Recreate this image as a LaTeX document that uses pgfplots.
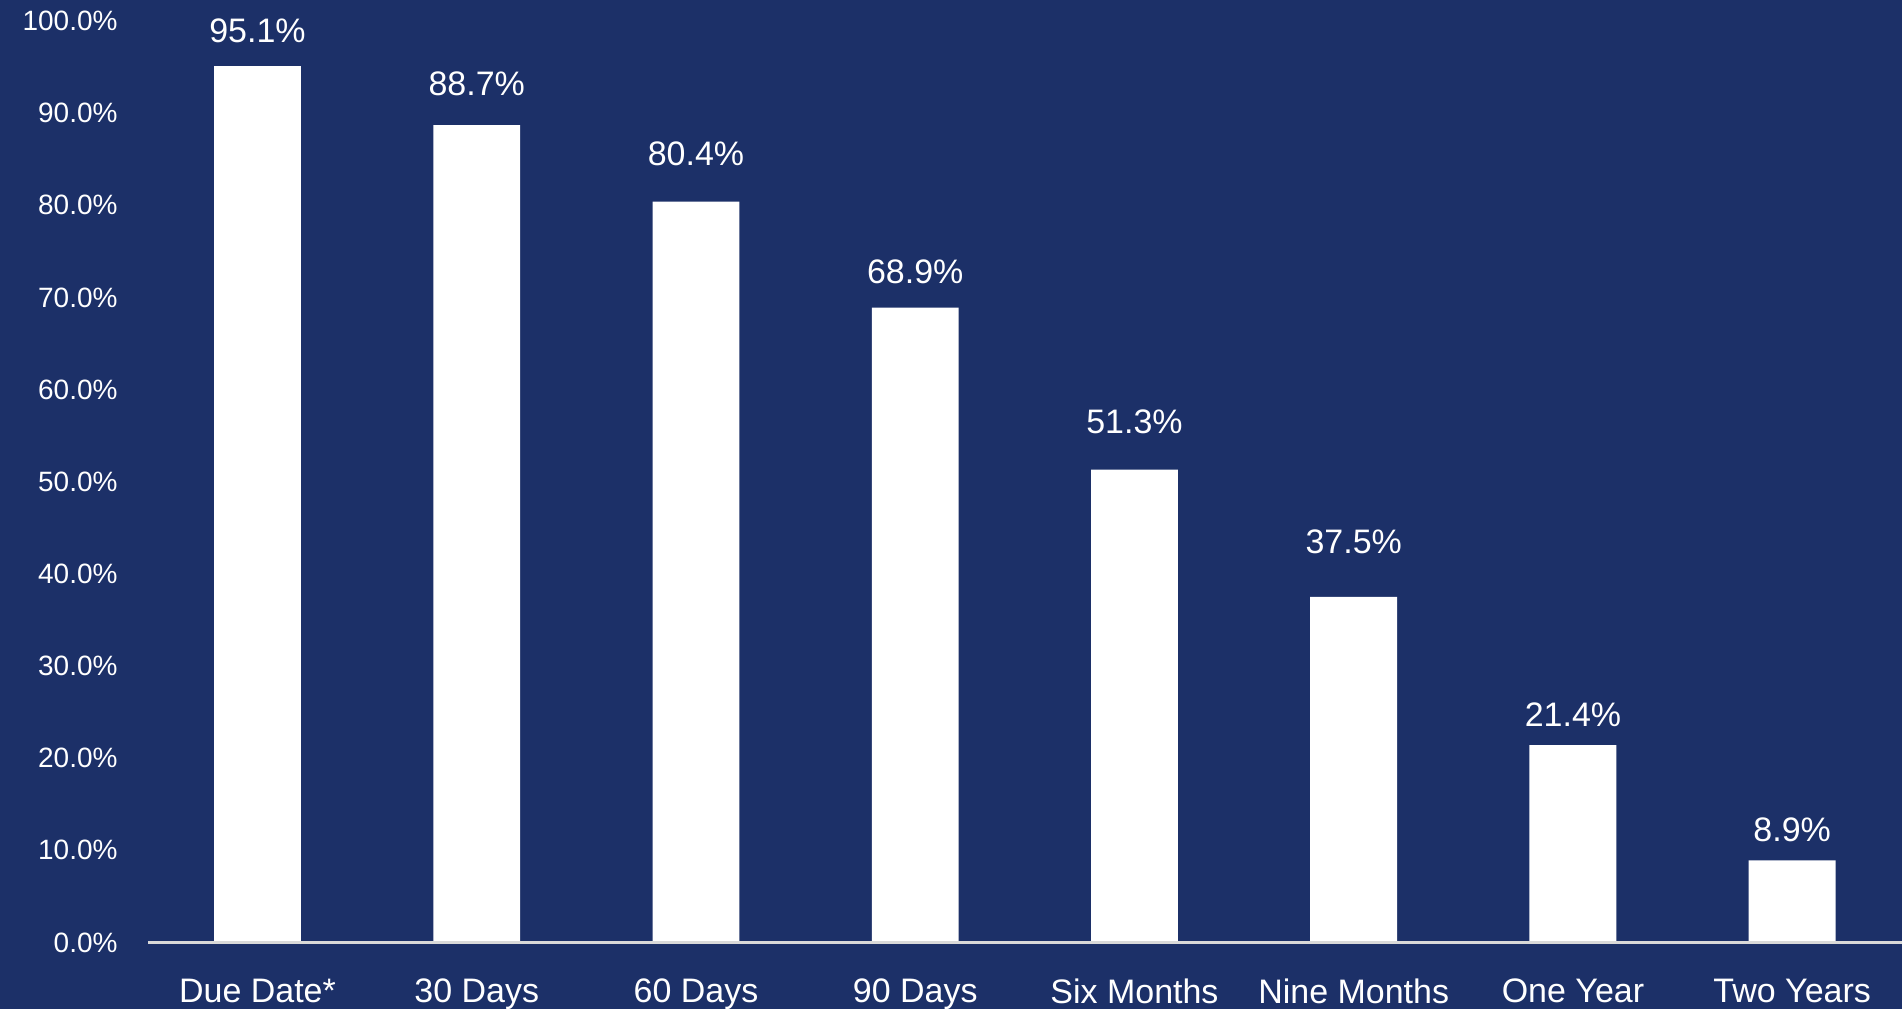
\documentclass[border=0pt]{standalone}
\usepackage{pgfplots}
\usepackage{pgfplotstable}
\pgfplotsset{compat=1.18}
\usepackage{fontspec}
\setmainfont{Liberation Sans}
\definecolor{bgblue}{HTML}{1C3068}
\definecolor{axisgrey}{HTML}{D9D9D9}

% x, value, label gap above bar (bp)
\pgfplotstableread{
x  y     gap
0  95.1  12
1  88.7  15
2  80.4  18.3
3  68.9  12
4  51.3  18
5  37.5  21.5
6  21.4  9.5
7  8.9   9.5
}\datatable

\begin{document}
\begin{tikzpicture}
\fill[bgblue] (-74bp,-33.5bp) rectangle (877.5bp,471.5bp);
\begin{axis}[
    at={(0,0)}, anchor=south west,
    scale only axis,
    width=877.5bp, height=461bp,
    ybar, bar width=43.5bp,
    xmin=-0.5, xmax=7.5,
    ymin=0, ymax=100,
    axis line style={draw=none},
    axis x line*=bottom,
    axis y line=none,
    xtick=data,
    xticklabels={Due Date*,30 Days,60 Days,90 Days,Six Months,Nine Months,One Year,Two Years},
    major tick length=0pt,
    clip=false,
    /pgf/number format/assume math mode=true,
    xticklabel style={font=\fontsize{17bp}{20bp}\selectfont, text=white, anchor=north, inner sep=0pt, yshift=-18bp},
    visualization depends on={\thisrow{gap} \as \gap},
    nodes near coords={\pgfmathprintnumber[fixed,fixed zerofill,precision=1]{\pgfplotspointmeta}\%},
    every node near coord/.append style={font=\fontsize{17bp}{20bp}\selectfont, text=white, anchor=base, inner sep=0pt, yshift=\gap bp},
]
\addplot[fill=white, draw=none] table[x=x, y=y] {\datatable};
\draw[axisgrey, line width=1.2bp] (axis cs:-0.5,0) -- (axis cs:7.5,0);
\pgfplotsinvokeforeach{0,10,...,100}{
  \node[anchor=east, inner sep=0pt, text=white, font=\fontsize{14bp}{16bp}\selectfont] at ([xshift=-15bp]axis cs:-0.5,#1) {\pgfmathprintnumber[fixed,fixed zerofill,precision=1]{#1}\%};
}
\end{axis}
\end{tikzpicture}
\end{document}
